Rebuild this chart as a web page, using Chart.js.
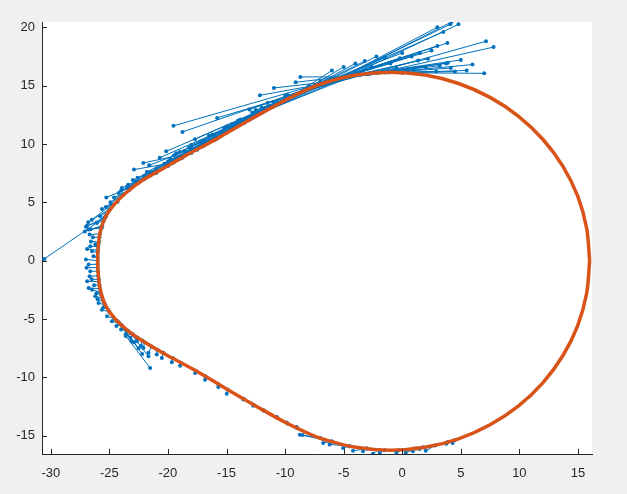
<!DOCTYPE html>
<html>
<head>
<meta charset="utf-8">
<script src="https://cdn.jsdelivr.net/npm/chart.js@4.4.1/dist/chart.umd.min.js"></script>
<style>
  html, body { margin: 0; padding: 0; background: #f0f0f0; }
  #wrap { width: 627px; height: 494px; }
</style>
</head>
<body>
<div id="wrap"><canvas id="myChart" width="627" height="494"></canvas></div>
<script>
// axis limits and ticks
const xMin = -30.75, xMax = 16.2;
const yMin = -16.57, yMax = 20.45;
const xTicks = [-30, -25, -20, -15, -10, -5, 0, 5, 10, 15];
const yTicks = [-15, -10, -5, 0, 5, 10, 15, 20];

// fitted closed curve (orange)
const curveX = [16.0, 15.74, 14.98, 13.72, 12.02, 9.93, 7.5, 4.81, 1.95, -1.0, -3.95, -6.81,
  -8.7, -11.0, -13.5, -16.0, -18.5, -20.5, -22.3, -23.6, -24.6, -25.3, -25.75, -25.95, -26.0,
  -25.95, -25.75, -25.3, -24.5, -23.3, -21.8, -20.0, -17.5, -15.0, -12.5, -10.0, -7.8,
  -6.81, -3.95, -1.0, 1.95, 4.81, 7.5, 9.93, 12.02, 13.72, 14.98, 15.74, 16.0];
const curveY = [0, 2.8, 5.52, 8.08, 10.38, 12.37, 13.99, 15.18, 15.9, 16.15, 15.9, 15.18,
  14.4, 13.2, 11.8, 10.35, 9.0, 7.85, 6.8, 5.8, 4.8, 3.8, 2.6, 1.2, 0,
  -1.2, -2.6, -3.9, -5.0, -6.1, -7.1, -8.15, -9.5, -11.0, -12.45, -13.85, -14.9,
  -15.28, -16.0, -16.25, -16.0, -15.27, -14.07, -12.45, -10.45, -8.13, -5.56, -2.82, 0];

// measured points and their matched points on the curve (blue)
const obsX = [4.2, 4.1, 4.8, 3.85, 7.15, 7.8, 3.9, 4.15, 7.0, 2.9, 3.75, -0.2, 0.8, 1.35, -2.2, -3.2,
  2.0, 3.2, -1.0, -2.6, -0.5, 1.0,
  1.5, 2.5, 3.0, 0.0, -1.5, 2.2, 5.0, 6.0, 5.5, 4.5, 3.0, 3.5, -4.0, -5.0, -6.0,
  -8.7, -9.1, -10.95, -12.15, -13.05, -15.8, -19.53, -18.76, -17.7, -20.15, -20.7, -22.1, -22.9,
  -21.6, -23.93, -25.26, -25.63, -30.55,
  -19.0, -18.0, -16.5, -15.0, -14.0, -12.5, -11.5, -10.0, -21.5, -20.0, -22.6, -23.0, -24.0, -24.6,
  -23.4, -17.0, -13.5, -9.8, -16.8, -15.5, -14.3, -13.0, -11.8, -10.6, -8.0, -7.0, -19.8, -18.6,
  -19.5, -18.2, -17.2, -16.2, -15.2, -14.5, -13.8, -12.8, -12.0, -11.0, -21.0, -20.3, -22.0, -21.8,
  -19.3, -18.0, -16.0, -22.8, -23.5, -24.2, -24.9, -25.3,
  -26.77, -26.69, -26.57, -26.63, -26.48, -26.35, -26.77, -26.63, -26.69, -26.9, -26.77, -26.48,
  -26.2, -25.92, -25.63, -25.2, -24.78, -26.06, -25.78, -26.9, -26.4,
  -27.0, -26.8, -26.5, -27.1, -26.9, -27.0, -26.95, -26.5, -26.3, -26.1, -26.0, -25.5, -26.2, -26.6,
  -21.52, -21.66, -22.65, -22.09, -21.66, -20.95, -20.52, -19.67, -18.96, -17.68, -16.83, -15.7,
  -14.98, -13.57, -12.72, -11.86, -10.72, -9.87, -9.02, -24.0, -23.2, -22.3, -22.5,
  -24.4, -23.6, -22.9, -23.1, -22.2,
  -8.74, -8.5, -6.75, -5.05, -3.35, -2.5, -1.92, -0.5, 0.91, 1.48, 3.76, 4.3, -6.2, -4.2, 0.3, 2.0];
const obsY = [20.45, 20.25, 20.25, 18.65, 18.8, 18.3, 16.95, 16.5, 16.05, 16.2, 16.9, 17.35, 17.5, 17.15, 17.5, 17.1,
  16.6, 16.7, 16.9, 16.6, 16.5, 16.35,
  17.8, 18.0, 18.4, 17.8, 17.4, 17.3, 17.2, 16.8, 16.3, 16.2, 20.0, 19.6, 16.9, 16.6, 16.3,
  15.74, 15.28, 14.8, 14.17, 12.95, 12.23, 11.55, 11.03, 10.4, 9.37, 8.82, 8.37, 7.8,
  8.17, 6.23, 5.42, 4.43, 0.15,
  9.3, 9.9, 10.7, 11.5, 12.0, 12.9, 13.5, 14.1, 7.6, 8.5, 7.1, 6.9, 6.0, 5.4,
  6.5, 10.2, 12.1, 14.2, 10.05, 10.9, 11.55, 12.3, 12.9, 13.55, 14.95, 15.35, 8.7, 9.4,
  9.0, 9.7, 10.2, 10.8, 11.3, 11.7, 12.1, 12.7, 13.1, 13.6, 7.9, 8.3, 7.3, 7.6,
  9.2, 9.6, 10.6, 6.8, 6.3, 5.8, 5.0, 4.6,
  2.66, 2.23, 1.65, 1.23, 0.8, 0.37, -0.34, -0.92, -1.34, -1.77, -2.34, -2.49,
  -3.06, -3.63, -4.2, -4.77, -5.2, 3.23, 3.8, 3.0, 2.0,
  2.9, 3.3, 3.5, 2.5, 1.0, 0.1, -0.6, -1.6, -2.1, -2.8, -3.3, -4.0, 1.4, 2.7,
  -9.2, -8.2, -6.9, -7.48, -7.9, -8.05, -8.34, -8.71, -9.0, -9.62, -10.2, -10.82,
  -11.4, -11.91, -12.43, -12.85, -13.4, -13.86, -14.25, -5.9, -6.6, -7.3, -7.5,
  -5.6, -6.3, -7.0, -6.9, -8.0,
  -14.91, -14.95, -15.62, -16.05, -16.34, -16.55, -16.48, -16.43, -16.34, -16.14, -15.7, -15.62, -15.75, -16.3, -16.45, -16.3];
const fitX = [-5.0, -5.6, -4.6, -6.5, -2.8, -2.0, -4.0, -2.5, 0.5, -1.5, -3.0, -6.0, -4.8, -3.5, -7.2, -7.8,
  -4.2, -3.2, -5.3, -6.8, -4.5, -2.2,
  -6.2, -5.8, -6.0, -7.0, -7.5, -5.0, -3.8, -1.0, 0.0, -1.2, -5.3, -5.8, -8.2, -8.6, -9.2,
  -4.5, -3.6, -6.5, -7.0, -8.0, -3.5, -5.5, -6.0, -9.0, -10.0, -12.0, -18.0, -19.5,
  -16.0, -21.0, -23.0, -24.3, -25.4,
  -11.0, -9.5, -8.5, -7.0, -6.0, -5.0, -4.0, -3.0, -14.0, -13.0, -17.0, -20.0, -22.0, -23.3,
  -21.5, -15.5, -12.5, -9.3, -15.8, -14.3, -13.2, -11.8, -10.6, -9.4, -6.5, -5.8, -18.8, -17.5,
  -9.0, -7.5, -6.5, -5.5, -4.6, -4.0, -7.8, -6.2, -5.2, -6.0, -12.5, -11.0, -15.0, -13.5,
  -14.5, -12.0, -10.5, -18.0, -19.0, -21.0, -22.5, -23.8,
  -25.7, -25.8, -25.9, -25.95, -26.0, -26.0, -26.0, -25.97, -25.95, -25.9, -25.8, -25.75,
  -25.6, -25.35, -25.0, -24.6, -24.2, -25.3, -25.0, -25.5, -25.85,
  -25.3, -25.0, -24.8, -25.6, -26.0, -26.0, -26.0, -25.9, -25.85, -25.7, -25.5, -25.1, -25.95, -25.65,
  -23.6, -23.2, -22.6, -22.0, -21.4, -20.9, -20.4, -19.6, -18.9, -17.6, -16.8, -15.7,
  -14.9, -13.5, -12.7, -11.8, -10.7, -9.8, -9.0, -23.9, -23.0, -22.2, -24.3,
  -24.0, -23.4, -22.6, -24.2, -23.8,
  -6.0, -7.0, -6.0, -4.5, -3.0, -2.0, -1.5, -0.3, 1.0, 1.8, 3.9, 4.5, -4.5, -3.0, 1.2, 2.8];
const fitY = [15.7, 15.55, 15.8, 15.3, 16.0, 16.1, 15.9, 16.05, 16.1, 16.12, 16.0, 15.45, 15.75, 15.95, 15.0, 14.8,
  15.85, 15.98, 15.65, 15.18, 15.75, 16.08,
  15.4, 15.5, 15.45, 15.1, 14.9, 15.7, 15.9, 16.15, 16.1, 16.12, 15.65, 15.5, 14.6, 14.45, 14.2,
  15.75, 15.95, 15.3, 15.1, 14.7, 15.95, 15.6, 15.45, 14.3, 13.75, 12.65, 9.25, 8.4,
  10.35, 7.55, 6.35, 5.05, 3.7,
  13.2, 14.05, 14.5, 15.1, 15.45, 15.7, 15.9, 16.0, 11.6, 12.1, 9.8, 8.1, 7.0, 6.05,
  7.3, 10.65, 12.4, 14.15, 10.45, 11.45, 12.0, 12.8, 13.45, 14.1, 15.3, 15.5, 8.8, 9.5,
  14.3, 14.9, 15.3, 15.6, 15.8, 15.9, 14.8, 15.4, 15.65, 15.45, 12.45, 13.2, 10.95, 11.8,
  11.25, 12.7, 13.5, 9.25, 8.7, 7.5, 6.7, 5.7,
  2.9, 2.3, 1.6, 1.2, 0.7, 0.3, -0.3, -0.9, -1.3, -1.8, -2.4, -2.7,
  -3.2, -3.8, -4.4, -4.95, -5.35, 3.8, 4.3, 3.4, 2.0,
  3.8, 4.4, 4.8, 3.0, 0.9, 0.0, -0.6, -1.6, -2.1, -2.9, -3.5, -4.2, 1.4, 2.8,
  -6.45, -6.2, -6.6, -7.0, -7.35, -7.65, -7.9, -8.35, -8.75, -9.45, -9.9, -10.6,
  -11.05, -11.85, -12.35, -12.85, -13.45, -13.95, -14.35, -5.6, -6.3, -6.85, -5.2,
  -5.5, -6.0, -6.6, -5.3, -5.8,
  -15.5, -15.2, -15.5, -15.9, -16.1, -16.2, -16.24, -16.24, -16.1, -16.0, -15.55, -15.4, -15.9, -16.1, -16.1, -15.85];

const blue = '#0072BD';
const orange = '#D95319';
const axisColor = '#262626';

const datasets = [];
datasets.push({
    data: curveX.map((x, i) => ({ x: x, y: curveY[i] })),
    showLine: true,
    borderColor: orange,
    borderWidth: 3.5,
    pointRadius: 0,
    tension: 0.35,
    order: 0,
});
obsX.forEach((x, i) => {
    datasets.push({
        data: [{ x: x, y: obsY[i] }, { x: fitX[i], y: fitY[i] }],
        showLine: true,
        borderColor: blue,
        borderWidth: 1,
        pointRadius: 2,
        pointBackgroundColor: blue,
        pointBorderWidth: 0,
        order: 1,
    });
});

// white plot box, then the inward tick marks MATLAB draws
const boxPlugin = {
    id: 'box',
    beforeDraw(chart) {
        const a = chart.chartArea;
        const ctx = chart.ctx;
        ctx.save();
        ctx.fillStyle = '#ffffff';
        ctx.fillRect(a.left, a.top, a.right - a.left, a.bottom - a.top);
        ctx.restore();
    },
    afterDraw(chart) {
        const a = chart.chartArea;
        const ctx = chart.ctx;
        const xs = chart.scales.x, ys = chart.scales.y;
        ctx.save();
        ctx.strokeStyle = axisColor;
        ctx.lineWidth = 1;
        ctx.beginPath();
        xTicks.forEach(v => {
            const px = Math.round(xs.getPixelForValue(v)) + 0.5;
            ctx.moveTo(px, a.bottom);
            ctx.lineTo(px, a.bottom - 5);
        });
        yTicks.forEach(v => {
            const py = Math.round(ys.getPixelForValue(v)) + 0.5;
            ctx.moveTo(a.left, py);
            ctx.lineTo(a.left + 5, py);
        });
        ctx.stroke();
        ctx.restore();
    }
};

const tickFont = { family: "'Liberation Sans', Arial, sans-serif", size: 13 };

new Chart(document.getElementById('myChart'), {
    type: 'scatter',
    data: { datasets: datasets },
    options: {
        responsive: false,
        animation: false,
        layout: { padding: { top: 22, right: 35, left: 0, bottom: 0 } },
        plugins: { legend: { display: false }, tooltip: { enabled: false } },
        scales: {
            x: {
                type: 'linear',
                min: xMin,
                max: xMax,
                afterBuildTicks: (s) => { s.ticks = xTicks.map(v => ({ value: v })); },
                afterFit: (s) => { s.height = 40; },
                grid: { drawOnChartArea: false, drawTicks: false },
                border: { display: true, color: axisColor, width: 1 },
                ticks: { font: tickFont, color: axisColor, padding: 12, maxRotation: 0 },
            },
            y: {
                type: 'linear',
                min: yMin,
                max: yMax,
                afterBuildTicks: (s) => { s.ticks = yTicks.map(v => ({ value: v })); },
                afterFit: (s) => { s.width = 42; },
                grid: { drawOnChartArea: false, drawTicks: false },
                border: { display: true, color: axisColor, width: 1 },
                ticks: { font: tickFont, color: axisColor, padding: 7 },
            }
        }
    },
    plugins: [boxPlugin]
});
</script>
</body>
</html>
